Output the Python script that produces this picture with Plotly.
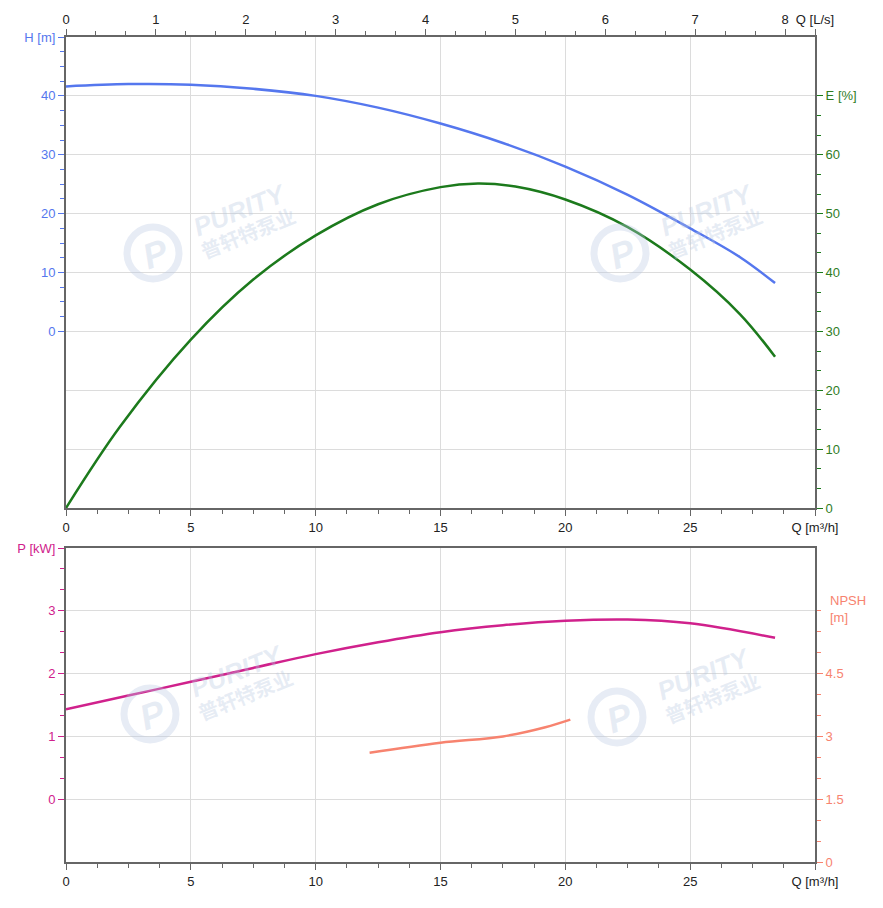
import plotly.graph_objects as go

# ---- data ----
Q_H = [0, 2.5, 5, 7.5, 10, 12.5, 15, 17.5, 20, 22.5, 25, 27, 28.4]
H = [41.6, 42.0, 41.9, 41.2, 40.0, 38.0, 35.3, 32.0, 28.0, 23.2, 17.5, 12.6, 8.2]

Q_E = [0, 2.16, 5, 7.5, 10, 12.5, 15, 16.5, 18, 20, 22.5, 25, 27, 28.4]
E = [0, 13.8, 28.6, 38.8, 46.3, 51.6, 54.5, 55.1, 54.6, 52.4, 47.7, 40.5, 32.9, 25.7]

Q_P = [0, 2.5, 5, 7.5, 10, 12.5, 15, 17.5, 20, 22.5, 25, 28.4]
P = [1.43, 1.65, 1.87, 2.09, 2.31, 2.50, 2.66, 2.77, 2.84, 2.86, 2.80, 2.57]

Q_N = [12.16, 15, 17.5, 19.2, 20.2]
NPSH = [2.61, 2.85, 3.0, 3.22, 3.40]

Q_TICKS = [0, 5, 10, 15, 20, 25, 30]
Q_TEXT = ["0", "5", "10", "15", "20", "25", "Q [m³/h]"]
QLS_TICKS = [0, 1, 2, 3, 4, 5, 6, 7, 8, 30 / 3.6]
QLS_TEXT = ["0", "1", "2", "3", "4", "5", "6", "7", "8", "Q [L/s]"]
H_TICKS = [0, 10, 20, 30, 40, 50]
H_TEXT = ["0", "10", "20", "30", "40", "H [m]"]
E_TICKS = [0, 10, 20, 30, 40, 50, 60, 70]
E_TEXT = ["0", "10", "20", "30", "40", "50", "60", "E [%]"]
P_TICKS = [0, 1, 2, 3, 4]
P_TEXT = ["0", "1", "2", "3", "P [kW]"]
N_TICKS = [0, 1.5, 3, 4.5, 6]
N_TEXT = ["0", "1.5", "3", "4.5", ""]
N_LABEL = "NPSH<br>[m]"

C_H = "#5577ee"
C_E = "#1c7a1c"
C_P = "#d0218c"
C_N = "#f7836f"
AX = "#666666"
GRID = "#dcdcdc"
FONT = "Arial, Liberation Sans, sans-serif"
FS = 13

fig = go.Figure()
fig.add_trace(go.Scatter(x=Q_H, y=H, mode="lines", line=dict(color=C_H, width=2.5, shape="spline"),
                         xaxis="x", yaxis="y", hoverinfo="skip"))
fig.add_trace(go.Scatter(x=Q_E, y=E, mode="lines", line=dict(color=C_E, width=2.5, shape="spline"),
                         xaxis="x", yaxis="y2", hoverinfo="skip"))
# invisible trace so the L/s axis is drawn
fig.add_trace(go.Scatter(x=[0, 30 / 3.6], y=[None, None], mode="lines", xaxis="x2", yaxis="y",
                         hoverinfo="skip", showlegend=False))
fig.add_trace(go.Scatter(x=Q_P, y=P, mode="lines", line=dict(color=C_P, width=2.5, shape="spline"),
                         xaxis="x3", yaxis="y3", hoverinfo="skip"))
fig.add_trace(go.Scatter(x=Q_N, y=NPSH, mode="lines", line=dict(color=C_N, width=2.5, shape="spline"),
                         xaxis="x3", yaxis="y4", hoverinfo="skip"))

# screen-space plot box (page has an 8px body margin)
OFF = 8
PL, PR, PT, PB = 66, 815, 37, 862
W, HH = PR - PL, PB - PT
FW, FH = 883 - 2 * OFF, 908 - 2 * OFF
top_dom = [(PB - 508) / HH, 1.0]
bot_dom = [0.0, (PB - 548) / HH]


def minor(vals, color):
    return dict(tickmode="array", tickvals=vals, ticks="outside", ticklen=4, tickcolor=color,
                tickwidth=1, showgrid=False)


def frange(a, b, step):
    out = []
    v = a
    while v <= b + 1e-9:
        out.append(round(v, 6))
        v += step
    return out


xcommon = dict(range=[0, 30], showline=True, linecolor=AX, linewidth=2, ticks="outside",
               ticklen=6, tickcolor=AX, tickwidth=1, tickmode="array", tickvals=Q_TICKS,
               ticktext=Q_TEXT, tickfont=dict(size=FS, color="#222", family=FONT),
               showgrid=True, gridcolor=GRID, gridwidth=1, zeroline=False, automargin=False,
               minor=minor(frange(0, 30, 1.25), AX), fixedrange=True)

fig.update_layout(
    width=FW, height=FH,
    margin=dict(l=PL - OFF, r=FW - (PR - OFF), t=PT - OFF, b=FH - (PB - OFF), autoexpand=False),
    paper_bgcolor="white", plot_bgcolor="white",
    showlegend=False,
    font=dict(family=FONT, size=FS),
    xaxis=dict(domain=[0, 1], anchor="y", **xcommon),
    xaxis2=dict(domain=[0, 1], anchor="y", overlaying="x", side="top", range=[0, 30 / 3.6],
                showline=True, linecolor=AX, linewidth=2, ticks="outside", ticklen=6,
                tickcolor=AX, tickmode="array", tickvals=QLS_TICKS, ticktext=QLS_TEXT,
                tickfont=dict(size=FS, color="#222", family=FONT), showgrid=False,
                zeroline=False, automargin=False, minor=minor(frange(0, 8, 1 / 3), AX)),
    yaxis=dict(domain=top_dom, anchor="x", range=[-30, 50], showline=True, linecolor=AX,
               linewidth=2, ticks="outside", ticklen=6, tickcolor=C_H, tickmode="array",
               tickvals=H_TICKS, ticktext=H_TEXT, tickfont=dict(size=FS, color=C_H, family=FONT),
               showgrid=False, zeroline=False, automargin=False,
               minor=minor(frange(0, 50, 2.5), C_H)),
    yaxis2=dict(domain=top_dom, anchor="x", overlaying="y", side="right", range=[0, 80],
                showline=True, linecolor=AX, linewidth=2, ticks="outside", ticklen=6,
                tickcolor=C_E, tickmode="array", tickvals=E_TICKS, ticktext=E_TEXT,
                tickfont=dict(size=FS, color="#2f7d1f", family=FONT), showgrid=True,
                gridcolor=GRID, gridwidth=1, zeroline=False, automargin=False,
                minor=minor(frange(0, 70, 10 / 3), C_E)),
    xaxis3=dict(domain=[0, 1], anchor="y3", mirror=True, **xcommon),
    yaxis3=dict(domain=bot_dom, anchor="x3", range=[-1, 4], showline=True, linecolor=AX,
                linewidth=2, ticks="outside", ticklen=6, tickcolor=C_P, tickmode="array",
                tickvals=P_TICKS, ticktext=P_TEXT, tickfont=dict(size=FS, color=C_P, family=FONT),
                showgrid=True, gridcolor=GRID, gridwidth=1, zeroline=False, automargin=False,
                minor=minor(frange(0, 4, 1 / 3), C_P)),
    yaxis4=dict(domain=bot_dom, anchor="x3", overlaying="y3", side="right", range=[0, 7.5],
                showline=True, linecolor=AX, linewidth=2, ticks="outside", ticklen=6,
                tickcolor=C_N, tickmode="array", tickvals=N_TICKS, ticktext=N_TEXT,
                tickfont=dict(size=FS, color=C_N, family=FONT), showgrid=False,
                zeroline=False, automargin=False, minor=minor(frange(0, 6, 0.5), C_N)),
)

fig.add_annotation(xref="paper", yref="paper", x=(828 - PL) / W, y=(PB - 609) / HH,
                   xanchor="left", yanchor="middle", align="left", text=N_LABEL, showarrow=False,
                   font=dict(size=FS, color=C_N, family=FONT))


def px(x, y):
    return (x - PL) / W, (PB - y) / HH


# watermark logos (circle logo + PURITY + Chinese name)
WM = "rgba(185,200,225,0.35)"
for (ox, oy) in [(0, 0), (467, 0), (-3, 461), (464, 464)]:
    cx, cy = px(153 + ox, 253 + oy)
    r = 26
    x0, y0 = px(153 + ox - r, 253 + oy + r)
    x1, y1 = px(153 + ox + r, 253 + oy - r)
    fig.add_shape(type="circle", xref="paper", yref="paper", x0=x0, y0=y0, x1=x1, y1=y1,
                  line=dict(color=WM, width=7), layer="above")
    fig.add_annotation(xref="paper", yref="paper", x=cx + 0.004, y=cy, text="<i><b>P</b></i>",
                       xanchor="center", yanchor="middle", showarrow=False, textangle=-20,
                       font=dict(size=36, color=WM, family=FONT))
    tx, ty = px(240 + ox, 210 + oy)
    fig.add_annotation(xref="paper", yref="paper", x=tx, y=ty, text="<i><b>PURITY</b></i>",
                       xanchor="center", yanchor="middle", showarrow=False, textangle=-22,
                       font=dict(size=26, color=WM, family=FONT))
    tx, ty = px(248 + ox, 233 + oy)
    fig.add_annotation(xref="paper", yref="paper", x=tx, y=ty, text="<b>普轩特泵业</b>",
                       xanchor="center", yanchor="middle", showarrow=False, textangle=-22,
                       font=dict(size=20, color=WM, family="Noto Sans CJK SC"))

fig.write_html("out.html")
